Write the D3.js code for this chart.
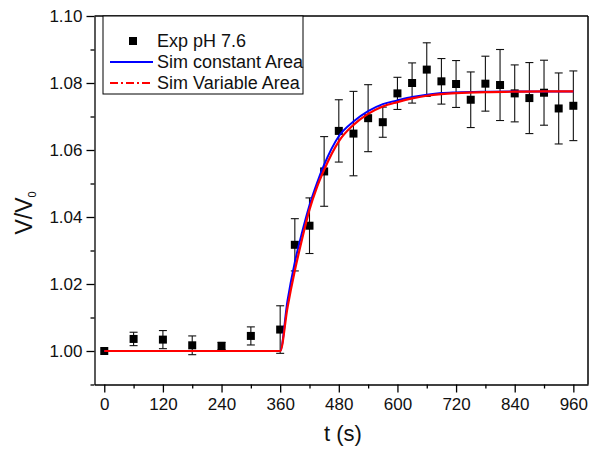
<!DOCTYPE html>
<html>
<head>
<meta charset="utf-8">
<script src="https://cdn.jsdelivr.net/npm/d3@7"></script>
<style>
  body { margin: 0; background: #fff; }
  text { font-family: "Liberation Sans", Arial, sans-serif; fill: #111; }
</style>
</head>
<body>
<svg id="chart" width="589" height="450"></svg>
<script>
// experimental points (t in s, V/V0, error)
const expT = [0, 60, 120, 180, 240, 300, 360, 390, 420, 450, 480, 510, 540, 570, 600, 630, 660, 690, 720, 750, 780, 810, 840, 870, 900, 930, 960];
const expV = [1.0000, 1.0036, 1.0034, 1.0017, 1.0015, 1.0045, 1.0064, 1.0317, 1.0374, 1.0536, 1.0657, 1.0649, 1.0695, 1.0683, 1.0769, 1.0800, 1.0840, 1.0805, 1.0797, 1.0750, 1.0798, 1.0794, 1.0769, 1.0755, 1.0771, 1.0724, 1.0732];
const expErr = [0, 0.0020, 0.0027, 0.0028, 0.0011, 0.0027, 0.0071, 0.0078, 0.0083, 0.0104, 0.0093, 0.0126, 0.0100, 0.0045, 0.0048, 0.0060, 0.0080, 0.0068, 0.0070, 0.0083, 0.0082, 0.0106, 0.0085, 0.0106, 0.0097, 0.0106, 0.0104];

// simulated curves
const simT = [0, 360, 375, 390, 405, 420, 435, 450, 480, 510, 540, 570, 600, 630, 660, 690, 720, 780, 840, 900, 960];
const simConst = [1.0000, 1.0000, 1.0150, 1.0265, 1.0355, 1.0435, 1.0500, 1.0556, 1.0641, 1.0685, 1.0716, 1.0737, 1.0748, 1.0758, 1.0765, 1.0770, 1.0772, 1.0774, 1.0775, 1.0775, 1.0775];
const simVar = [1.0000, 1.0000, 1.0130, 1.0240, 1.0335, 1.0422, 1.0488, 1.0541, 1.0626, 1.0675, 1.0708, 1.0730, 1.0743, 1.0754, 1.0762, 1.0767, 1.0770, 1.0773, 1.0774, 1.0775, 1.0775];

const xTicks = [0, 120, 240, 360, 480, 600, 720, 840, 960];
const xMinor = [60, 180, 300, 420, 540, 660, 780, 900];
const yTicks = [1.00, 1.02, 1.04, 1.06, 1.08, 1.10];
const yMinor = [0.99, 1.01, 1.03, 1.05, 1.07, 1.09];

const svg = d3.select("#chart");
const x = d3.scaleLinear([-20, 990], [94.5, 588]);
const y = d3.scaleLinear([0.99, 1.10], [384.5, 16]);

// axes
svg.append("g")
   .attr("transform", "translate(0," + y(0.99) + ")")
   .call(d3.axisBottom(x).tickValues(xMinor).tickSize(4).tickSizeOuter(0).tickFormat(""))
   .call(g => g.select(".domain").remove());
svg.append("g")
   .attr("transform", "translate(0," + y(0.99) + ")")
   .call(d3.axisBottom(x).tickValues(xTicks).tickSize(8).tickSizeOuter(0).tickPadding(5).tickFormat(d3.format("d")))
   .attr("font-size", 17);
svg.append("g")
   .attr("transform", "translate(" + x(-20) + ",0)")
   .call(d3.axisLeft(y).tickValues(yMinor).tickSize(4).tickSizeOuter(0).tickFormat(""))
   .call(g => g.select(".domain").remove());
svg.append("g")
   .attr("transform", "translate(" + x(-20) + ",0)")
   .call(d3.axisLeft(y).tickValues(yTicks).tickSize(8).tickSizeOuter(0).tickPadding(4).tickFormat(d3.format(".2f")))
   .attr("font-size", 17);

svg.selectAll(".domain, .tick line").attr("stroke", "#000").attr("stroke-width", 1.3);
svg.selectAll(".tick text").attr("fill", "#111").attr("font-family", "Liberation Sans, Arial, sans-serif");

// frame top + right
svg.append("line").attr("x1", x(-20)).attr("x2", x(990)).attr("y1", y(1.10)).attr("y2", y(1.10))
   .attr("stroke", "#000").attr("stroke-width", 1.5);
svg.append("line").attr("x1", x(990)).attr("x2", x(990)).attr("y1", y(1.10)).attr("y2", y(0.99))
   .attr("stroke", "#000").attr("stroke-width", 1.5);

// error bars
const pts = expT.map((t, i) => ({t: t, v: expV[i], e: expErr[i]}));
const eb = svg.append("g").attr("stroke", "#111").attr("stroke-width", 1.1);
pts.filter(d => d.e > 0).forEach(d => {
  eb.append("line").attr("x1", x(d.t)).attr("x2", x(d.t)).attr("y1", y(d.v - d.e)).attr("y2", y(d.v + d.e));
  eb.append("line").attr("x1", x(d.t) - 4).attr("x2", x(d.t) + 4).attr("y1", y(d.v - d.e)).attr("y2", y(d.v - d.e));
  eb.append("line").attr("x1", x(d.t) - 4).attr("x2", x(d.t) + 4).attr("y1", y(d.v + d.e)).attr("y2", y(d.v + d.e));
});

// squares
svg.append("g").selectAll("rect")
   .data(pts)
   .enter()
   .append("rect")
   .attr("x", d => x(d.t) - 4)
   .attr("y", d => y(d.v) - 4)
   .attr("width", 8)
   .attr("height", 8)
   .attr("fill", "#000");

// sim lines
const line = d3.line().x(d => x(d[0])).y(d => y(d[1])).curve(d3.curveMonotoneX);
svg.append("path")
   .datum(simT.map((t, i) => [t, simConst[i]]))
   .attr("d", line)
   .attr("fill", "none")
   .attr("stroke", "#0000ff")
   .attr("stroke-width", 2);
svg.append("path")
   .datum(simT.map((t, i) => [t, simVar[i]]))
   .attr("d", line)
   .attr("fill", "none")
   .attr("stroke", "#ff0000")
   .attr("stroke-width", 2.2);

// legend
const lg = svg.append("g");
lg.append("rect").attr("x", 103).attr("y", y(1.10)).attr("width", 200).attr("height", 78)
  .attr("fill", "#fff").attr("stroke", "#000").attr("stroke-width", 1);
lg.append("rect").attr("x", 129).attr("y", 37).attr("width", 8).attr("height", 8).attr("fill", "#000");
lg.append("line").attr("x1", 110).attr("x2", 153).attr("y1", 62).attr("y2", 62)
  .attr("stroke", "#0000ff").attr("stroke-width", 2);
lg.append("line").attr("x1", 110).attr("x2", 153).attr("y1", 83).attr("y2", 83)
  .attr("stroke", "#ff0000").attr("stroke-width", 2).attr("stroke-dasharray", "8,3,2,3");
const legendNames = ["Exp pH 7.6", "Sim constant Area", "Sim Variable Area"];
lg.selectAll("text.lbl")
  .data(legendNames)
  .enter()
  .append("text")
  .attr("class", "lbl")
  .attr("x", 157)
  .attr("y", (d, i) => 47 + i * 21)
  .attr("font-size", 18)
  .text(d => d);

// axis titles
svg.append("text")
   .attr("x", 343)
   .attr("y", 441)
   .attr("text-anchor", "middle")
   .attr("font-size", 22)
   .text("t (s)");
const yt = svg.append("text")
   .attr("transform", "translate(32,213) rotate(-90)")
   .attr("text-anchor", "middle")
   .attr("font-size", 23);
yt.append("tspan").text("V/V");
yt.append("tspan").attr("font-size", 11).attr("dy", 4).text("0");
</script>
</body>
</html>
